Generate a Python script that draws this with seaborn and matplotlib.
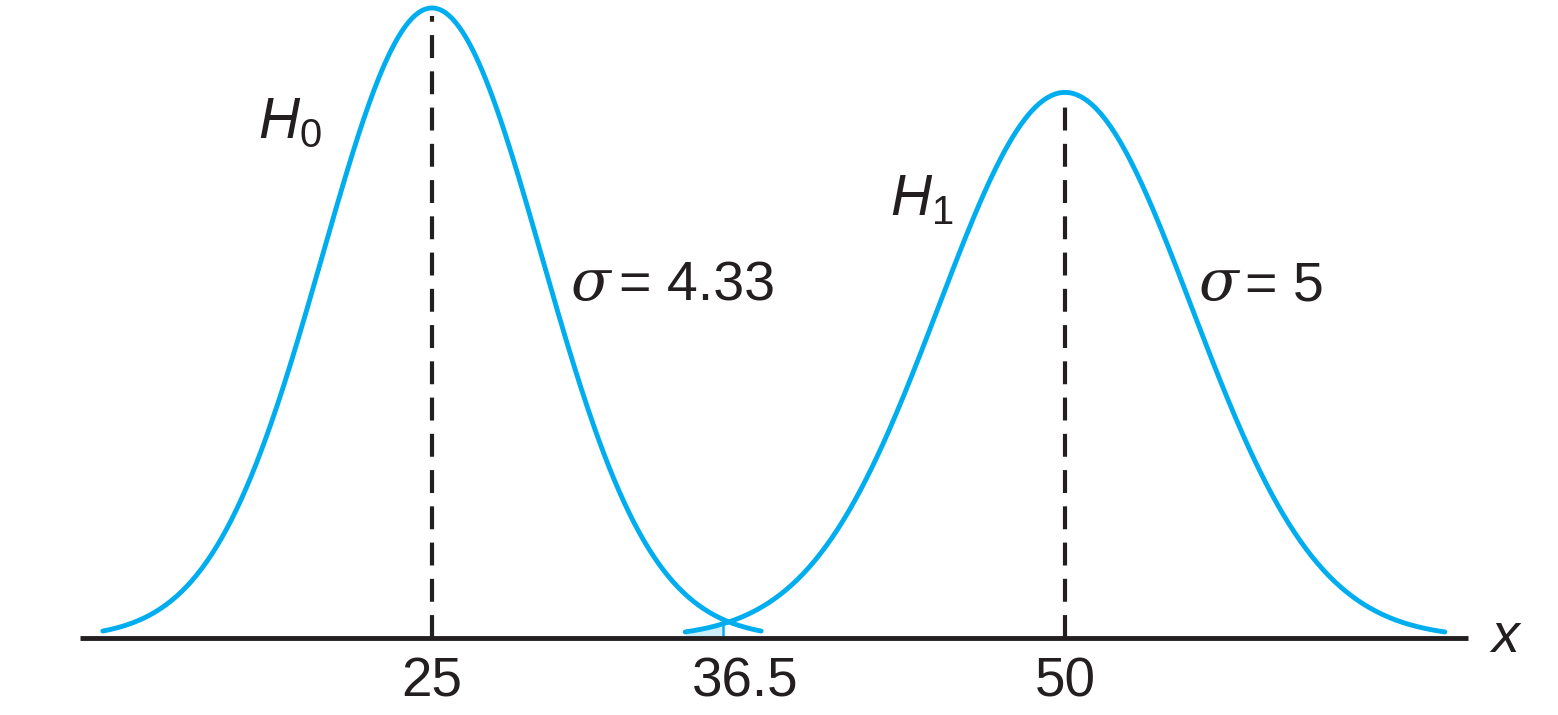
import numpy as np
import pandas as pd
import matplotlib
matplotlib.use("Agg")
import matplotlib.pyplot as plt
import seaborn as sns

# chart values
hypotheses = ["H0", "H1"]
means = [25, 50]
sigmas = [4.33, 5]
x_starts = [12, 35]
x_ends = [38, 65]
threshold = 36.5
tick_values = [25, 36.5, 50]
tick_labels = ["25", "36.5", "50"]
sigma_values = ["4.33", "5"]

BLUE = "#00aeef"
INK = "#231f20"


def normal_pdf(x, mu, s):
    return np.exp(-0.5 * ((x - mu) / s) ** 2) / (s * np.sqrt(2 * np.pi))


rows = []
for name, mu, s, a, b in zip(hypotheses, means, sigmas, x_starts, x_ends):
    xs = np.linspace(a, b, 400)
    for xv in xs:
        rows.append({"hyp": name, "x": xv, "density": normal_pdf(xv, mu, s)})
df = pd.DataFrame(rows)

sns.set_theme(style="white")
plt.rcParams["font.family"] = ["Liberation Sans", "DejaVu Sans"]
plt.rcParams["mathtext.fontset"] = "custom"
plt.rcParams["mathtext.rm"] = "Liberation Sans"
plt.rcParams["mathtext.it"] = "Liberation Sans:italic"

fig = plt.figure(figsize=(15.58, 7.15), dpi=100)
ax = fig.add_axes([0, 0, 1, 1])

# shaded beta region under H1 left of the threshold
h1 = df[(df["hyp"] == "H1") & (df["x"] <= threshold)]
ax.fill_between(h1["x"], 0, h1["density"], color="#cdeefb", lw=0)
ax.plot([threshold, threshold], [0, normal_pdf(threshold, means[1], sigmas[1])],
        color=BLUE, lw=1.8)

sns.lineplot(data=df, x="x", y="density", hue="hyp", palette=[BLUE, BLUE],
             linewidth=3.5, legend=False, ax=ax, sort=False, estimator=None)

# dashed mean lines
for mu, s in zip(means, sigmas):
    ax.plot([mu, mu], [0, normal_pdf(mu, mu, s) - 0.0012], color=INK, lw=3.0,
            dashes=(5.5, 3.2), zorder=1)

# axis line
ax.plot([11.1, 65.9], [0, 0], color=INK, lw=3.5, solid_capstyle="butt", zorder=3)

label_pos = [25, 37.35, 50]
for v, lab in zip(label_pos, tick_labels):
    ax.text(v, -0.0086, lab, ha="center", va="baseline", fontsize=39.5, color=INK)

ax.text(67.4, 0.0, "x", ha="center", va="center", fontsize=40, style="italic", color=INK)

ax.text(19.4, 0.0731, r"$H_0$", ha="center", va="baseline", fontsize=41, color=INK)
ax.text(43.1, 0.0619, r"$H_1$", ha="left", va="baseline", fontsize=41, color=INK)

# sigma labels: serif italic sigma, sans value
ax.text(30.45, 0.0494, "σ", ha="left", va="baseline", fontsize=42,
        family=["DejaVu Serif"], style="italic", color=INK)
ax.text(32.4, 0.0494, "= " + sigma_values[0], ha="left", va="baseline",
        fontsize=40, color=INK)
ax.text(55.25, 0.0494, "σ", ha="left", va="baseline", fontsize=42,
        family=["DejaVu Serif"], style="italic", color=INK)
ax.text(57.1, 0.0494, "= " + sigma_values[1], ha="left", va="baseline",
        fontsize=40, color=INK)

ax.set_xlim(7.94, 69.47)
ax.set_ylim(-0.01126, 0.0933)
ax.axis("off")

fig.savefig("out.png", dpi=100)
